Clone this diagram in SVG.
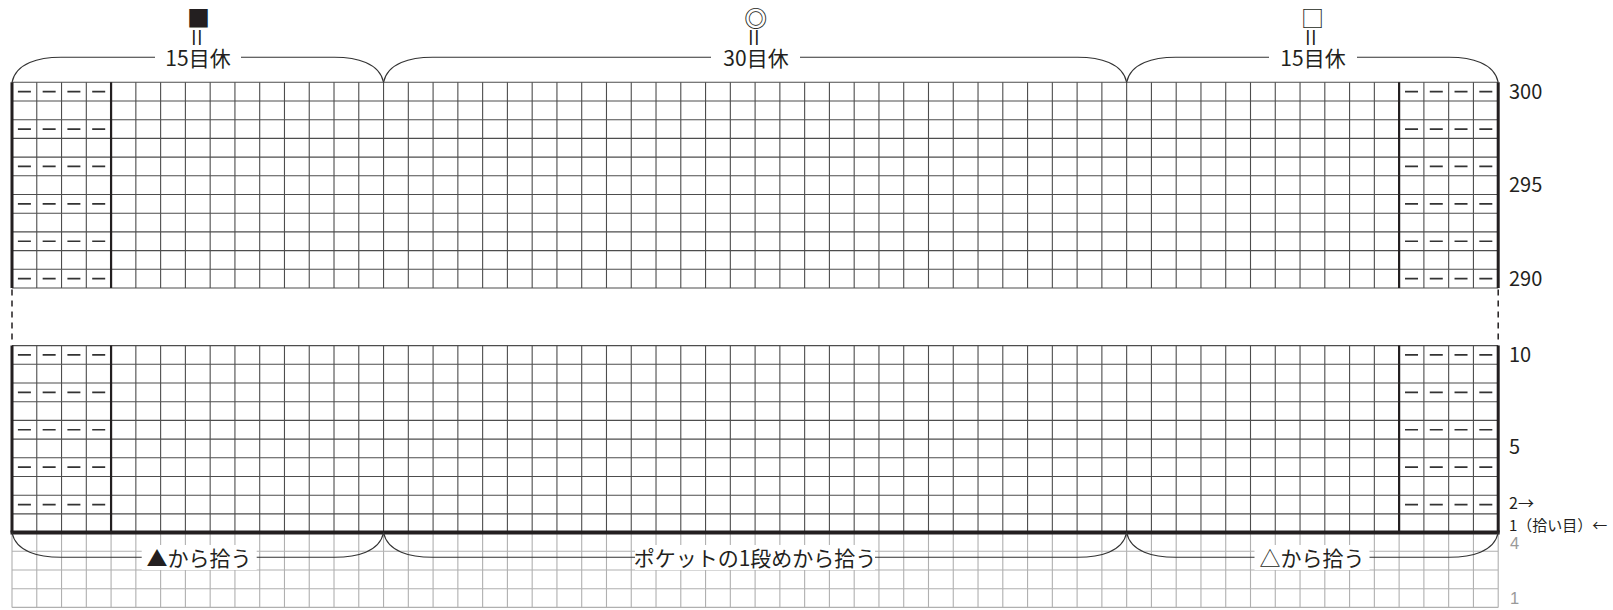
<svg xmlns="http://www.w3.org/2000/svg" width="1613" height="610" viewBox="0 0 1613 610">
<style>
text{font-family:"Noto Sans CJK JP","Noto Sans",sans-serif;fill:#231f20}
.lbl{font-size:20px}
.sm{font-size:15px}
.sm2{font-size:16px}
.gr{fill:#9a9a9a;font-size:16.5px;font-family:"Liberation Sans",Arial,sans-serif}
.sym{font-size:23px}
.eq{font-size:24px}
.brace{fill:none;stroke:#333;stroke-width:1.1}
.thin{fill:none;stroke:#4d4d4d;stroke-width:1.1}
.gray{fill:none;stroke:#b0b0b0;stroke-width:1.1}
.thick{fill:none;stroke:#231f20}
.dash{fill:none;stroke:#333;stroke-width:1.7}
</style>
<defs>
<path id="cols" d="M36.77 0v18.7M61.54 0v18.7M86.31 0v18.7M111.08 0v18.7M135.85 0v18.7M160.62 0v18.7M185.39 0v18.7M210.16 0v18.7M234.93 0v18.7M259.7 0v18.7M284.47 0v18.7M309.24 0v18.7M334.01 0v18.7M358.78 0v18.7M383.55 0v18.7M408.32 0v18.7M433.09 0v18.7M457.86 0v18.7M482.63 0v18.7M507.4 0v18.7M532.17 0v18.7M556.94 0v18.7M581.71 0v18.7M606.48 0v18.7M631.25 0v18.7M656.02 0v18.7M680.79 0v18.7M705.56 0v18.7M730.33 0v18.7M755.1 0v18.7M779.87 0v18.7M804.64 0v18.7M829.41 0v18.7M854.18 0v18.7M878.95 0v18.7M903.72 0v18.7M928.49 0v18.7M953.26 0v18.7M978.03 0v18.7M1002.8 0v18.7M1027.57 0v18.7M1052.34 0v18.7M1077.11 0v18.7M1101.88 0v18.7M1126.65 0v18.7M1151.42 0v18.7M1176.19 0v18.7M1200.96 0v18.7M1225.73 0v18.7M1250.5 0v18.7M1275.27 0v18.7M1300.04 0v18.7M1324.81 0v18.7M1349.58 0v18.7M1374.35 0v18.7M1399.12 0v18.7M1423.89 0v18.7M1448.66 0v18.7M1473.43 0v18.7"/>
<path id="d4" d="M5.9 0h13M30.65 0h13M55.4 0h13M80.2 0h13"/>
</defs>

<g id="gray-grid" class="gray">
<use href="#cols" y="532.6"/><use href="#cols" y="551.3"/><use href="#cols" y="570"/><use href="#cols" y="588.7"/>
<path d="M12 551.3H1498.2M12 570H1498.2M12 588.7H1498.2M12 607.4H1498.2M12 532.6V607.4M1498.2 532.6V607.4"/>
</g>

<g id="grid" class="thin">
<use href="#cols" y="82.3"/><use href="#cols" y="101"/><use href="#cols" y="119.7"/><use href="#cols" y="138.4"/><use href="#cols" y="157.1"/><use href="#cols" y="175.8"/><use href="#cols" y="194.5"/><use href="#cols" y="213.2"/><use href="#cols" y="231.9"/><use href="#cols" y="250.6"/><use href="#cols" y="269.3"/>
<use href="#cols" y="345.6"/><use href="#cols" y="364.3"/><use href="#cols" y="383"/><use href="#cols" y="401.7"/><use href="#cols" y="420.4"/><use href="#cols" y="439.1"/><use href="#cols" y="457.8"/><use href="#cols" y="476.5"/><use href="#cols" y="495.2"/><use href="#cols" y="513.9"/>
<path d="M12 82.3H1498.2M12 101H1498.2M12 119.7H1498.2M12 138.4H1498.2M12 157.1H1498.2M12 175.8H1498.2M12 194.5H1498.2M12 213.2H1498.2M12 231.9H1498.2M12 250.6H1498.2M12 269.3H1498.2M12 288H1498.2"/>
<path d="M12 345.6H1498.2M12 364.3H1498.2M12 383H1498.2M12 401.7H1498.2M12 420.4H1498.2M12 439.1H1498.2M12 457.8H1498.2M12 476.5H1498.2M12 495.2H1498.2M12 513.9H1498.2"/>
</g>

<g id="edges" class="thick">
<path stroke-width="3" d="M12 82.3V288M1498.2 82.3V288M12 345.6V532.6M1498.2 345.6V532.6"/>
<path stroke-width="2.2" d="M111.08 82.3V288M1399.12 82.3V288M111.08 345.6V532.6M1399.12 345.6V532.6"/>
<path stroke-width="4" d="M10.5 532.6H1499.7"/>
<path stroke-width="1.5" stroke-dasharray="6 5" d="M12 289.5V344M1498.2 289.5V344"/>
</g>

<g id="purl" class="dash">
<use href="#d4" x="12" y="91.65"/><use href="#d4" x="12" y="129.05"/><use href="#d4" x="12" y="166.45"/><use href="#d4" x="12" y="203.85"/><use href="#d4" x="12" y="241.25"/><use href="#d4" x="12" y="278.65"/>
<use href="#d4" x="12" y="354.95"/><use href="#d4" x="12" y="392.35"/><use href="#d4" x="12" y="429.75"/><use href="#d4" x="12" y="467.15"/><use href="#d4" x="12" y="504.55"/>
<use href="#d4" x="1399.12" y="91.65"/><use href="#d4" x="1399.12" y="129.05"/><use href="#d4" x="1399.12" y="166.45"/><use href="#d4" x="1399.12" y="203.85"/><use href="#d4" x="1399.12" y="241.25"/><use href="#d4" x="1399.12" y="278.65"/>
<use href="#d4" x="1399.12" y="354.95"/><use href="#d4" x="1399.12" y="392.35"/><use href="#d4" x="1399.12" y="429.75"/><use href="#d4" x="1399.12" y="467.15"/><use href="#d4" x="1399.12" y="504.55"/>
</g>

<g id="top-braces" class="brace">
<path d="M12 82.3C16 63 39 57.3 61 57.3H155M241 57.3H334.5C356.5 57.3 379.5 63 383.55 82.3"/>
<path d="M383.55 82.3C387.55 63 410.55 57.3 432.55 57.3H711M800 57.3H1077.65C1099.65 57.3 1122.65 63 1126.65 82.3"/>
<path d="M1126.65 82.3C1130.65 63 1153.65 57.3 1175.65 57.3H1269M1357 57.3H1449.2C1471.2 57.3 1494.2 63 1498.2 82.3"/>
</g>

<g id="bottom-braces" class="brace">
<path d="M12 532.6C16 551.9 39 557.3 61 557.3H334.5C356.5 557.3 379.5 551.9 383.55 532.6"/>
<path d="M383.55 532.6C387.55 551.9 410.55 557.3 432.55 557.3H1077.65C1099.65 557.3 1122.65 551.9 1126.65 532.6"/>
<path d="M1126.65 532.6C1130.65 551.9 1153.65 557.3 1175.65 557.3H1449.2C1471.2 557.3 1494.2 551.9 1498.2 532.6"/>
</g>

<g id="top-labels" text-anchor="middle">
<g id="left-top">
<text class="sym" x="198.5" y="27">■</text>
<text class="eq" transform="translate(198.5 37.5) rotate(90) scale(1.3 1)" dominant-baseline="central">=</text>
<text x="198" y="66" font-size="21">15目休</text>
</g>
<g id="mid-top">
<text class="sym" x="755.7" y="27" fill="#555">◎</text>
<text class="eq" transform="translate(755.5 37.5) rotate(90) scale(1.3 1)" dominant-baseline="central">=</text>
<text x="756" y="66" font-size="21">30目休</text>
</g>
<g id="right-top">
<text class="sym" x="1312.5" y="27" fill="#555">□</text>
<text class="eq" transform="translate(1312.5 37.5) rotate(90) scale(1.3 1)" dominant-baseline="central">=</text>
<text x="1313" y="66" font-size="21">15目休</text>
</g>
</g>

<g id="bottom-labels">
<rect x="141.7" y="545" width="115" height="25" fill="#fff"/>
<rect x="635" y="545" width="240" height="25" fill="#fff"/>
<rect x="1254.5" y="545" width="115" height="25" fill="#fff"/>
<text x="199" y="565.5" font-size="21" text-anchor="middle">▲から拾う</text>
<text x="755" y="565.5" font-size="21" text-anchor="middle">ポケットの1段めから拾う</text>
<text x="1312" y="565.5" font-size="21" text-anchor="middle">△から拾う</text>
</g>

<g id="row-numbers">
<text class="lbl" x="1509" y="99.3">300</text>
<text class="lbl" x="1509" y="192.3">295</text>
<text class="lbl" x="1509" y="286">290</text>
<text class="lbl" x="1509" y="361.7">10</text>
<text class="lbl" x="1509" y="454">5</text>
<text class="sm2" x="1509" y="508.5">2→</text>
<text class="sm" x="1509" y="530.5">1（拾い目）←</text>
<text class="gr" x="1510" y="549">4</text>
<text class="gr" x="1510" y="603.5">1</text>
</g>
</svg>
